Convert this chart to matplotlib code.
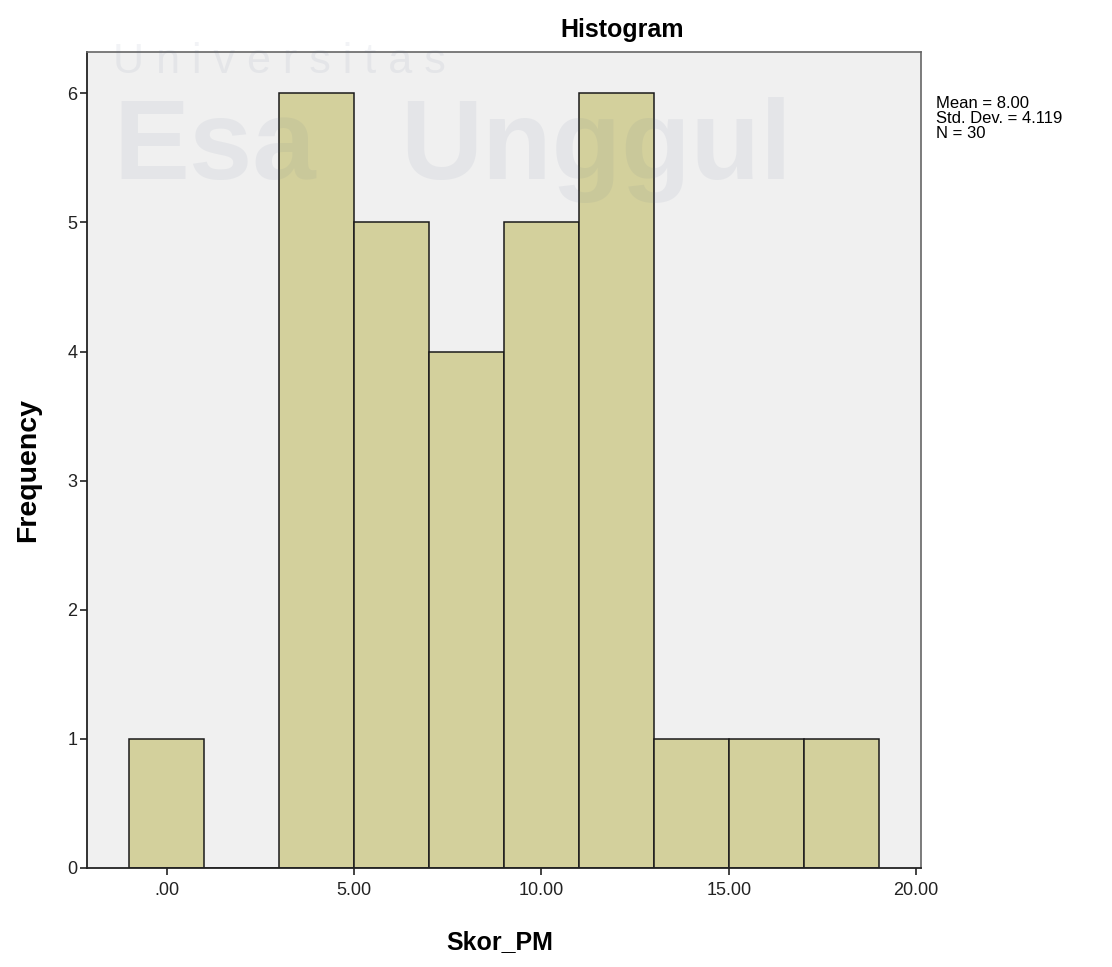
import matplotlib
matplotlib.use("Agg")
import matplotlib.pyplot as plt

plt.rcParams['font.family'] = ['Liberation Sans', 'DejaVu Sans']

# Data
bin_centers = [0, 2, 4, 6, 8, 10, 12, 14, 16, 18]
frequencies = [1, 0, 6, 5, 4, 5, 6, 1, 1, 1]
bin_width = 2
x_ticks = [0, 5, 10, 15, 20]
x_tick_labels = [".00", "5.00", "10.00", "15.00", "20.00"]
y_ticks = [0, 1, 2, 3, 4, 5, 6]
stats_lines = ["Mean = 8.00", "Std. Dev. = 4.119", "N = 30"]

fig = plt.figure(figsize=(11.12, 9.67), dpi=100)
ax = fig.add_axes([87/1112, 1-868/967, (921-87)/1112, (868-52)/967])
ax.set_facecolor('#f0f0f0')

ax.bar(bin_centers, frequencies, width=bin_width, color='#d3d09c',
       edgecolor='#1a1a1a', linewidth=1.1, zorder=2)

ax.set_xlim(-2.13, 20.13)
ax.set_ylim(0, 6.32)
ax.set_xticks(x_ticks)
ax.set_xticklabels(x_tick_labels)
ax.set_yticks(y_ticks)
ax.tick_params(direction='out', length=5, width=1.2, labelsize=13, colors='#222222')
ax.tick_params(axis='y', pad=2)
ax.tick_params(axis='x', pad=5)
for side in ['left', 'bottom']:
    ax.spines[side].set_color('#222222')
    ax.spines[side].set_linewidth(1.3)
for side in ['top', 'right']:
    ax.spines[side].set_color('#666666')
    ax.spines[side].set_linewidth(1.2)

fig.text(622/1112, 1-30/967, "Histogram", ha='center', va='center',
         fontsize=18, fontweight='bold')
fig.text(28/1112, 1-470/967, "Frequency", ha='center', va='center',
         rotation=90, fontsize=20.5, fontweight='bold')
fig.text(500/1112, 1-942/967, "Skor_PM", ha='center', va='center',
         fontsize=18, fontweight='bold')
fig.text(936/1112, 1-96/967, "\n".join(stats_lines), ha='left', va='top',
         fontsize=12, linespacing=1.0)

# faint watermark
fig.text(113/1112, 1-62/967, "U n i v e r s i t a s", ha='left', va='center',
         fontsize=31, color='#5a6f8f', alpha=0.08, zorder=10)
fig.text(113/1112, 1-150/967, "Esa", ha='left', va='center',
         fontsize=82, color='#5a6f8f', alpha=0.08, fontweight='bold', zorder=10)
fig.text(400/1112, 1-150/967, "Unggul", ha='left', va='center',
         fontsize=82, color='#5a6f8f', alpha=0.08, fontweight='bold', zorder=10)

fig.savefig("out.png", dpi=100)
